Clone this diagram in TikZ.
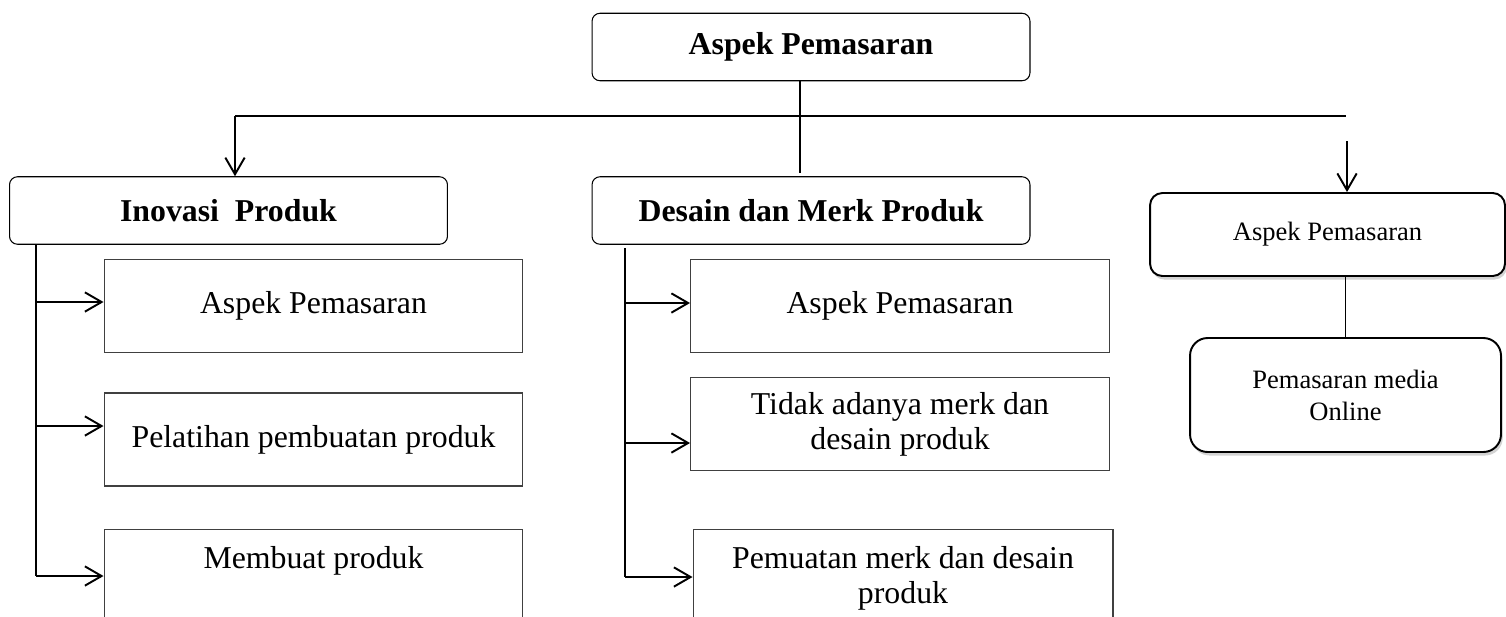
\documentclass[tikz,border=0pt]{standalone}
\usepackage{fontspec}
\setmainfont{Liberation Serif}
\usetikzlibrary{arrows.meta,shadows}
\newcommand{\judul}[1]{{\bfseries #1}}

\begin{document}
\begin{tikzpicture}[
 x=0.02cm,
 y=-0.02cm,
 line width=1.1pt,
 >={Straight Barb[length=9.5pt,width=11pt]},
 head/.style={
  draw=black,
  line width=0.6pt,
  rectangle,
  rounded corners=4.5pt,
  minimum width=8.76cm,
  minimum height=1.35cm,
  font=\fontsize{18.1}{20.5}\selectfont,
 },
 item/.style={
  draw=black!75,
  line width=0.6pt,
  rectangle,
  minimum width=8.38cm,
  minimum height=1.86cm,
  align=center,
  font=\fontsize{18.1}{20}\selectfont,
 },
 itemtop/.style={
  item,
  minimum height=0pt,
  anchor=north,
  inner ysep=0.33cm,
  text depth=1.2cm,
 },
 side/.style={
  draw=black,
  fill=white,
  line width=1.1pt,
  rectangle,
  rounded corners=7pt,
  minimum width=7.1cm,
  minimum height=1.66cm,
  align=center,
  drop shadow={shadow xshift=1pt,shadow yshift=-2pt,opacity=0.35},
  font=\fontsize{15.1}{18.2}\selectfont,
 }
]

\useasboundingbox (0,0) rectangle (1506,616);

\node at (811,47) [head] (aspek) {\judul{Aspek Pemasaran}};
\node at (228.5,210.5) [head] (inovasi) {\judul{Inovasi~~Produk}};
\node at (811,210.5) [head] (desain) {\judul{Desain dan Merk Produk}};

\node at (1327.5,234.5) [side] (kanan) {Aspek Pemasaran};
\node at (1345.5,395) [side,minimum width=6.22cm,minimum height=2.28cm,rounded corners=10pt] (online) {Pemasaran media\\Online};

\node at (313.5,306) [item] (aspekip) {Aspek Pemasaran};
\node at (313.5,439.5) [item] (pelatihan) {Pelatihan pembuatan produk};
\node at (313.5,529) [itemtop] (membuat) {Membuat produk};

\node at (900,306) [item] (aspekdm) {Aspek Pemasaran};
\node at (900,424) [item] (tidakada) {Tidak adanya merk dan\\desain produk};
\node at (903,529) [itemtop,minimum width=8.4cm] (pemuatan) {Pemuatan merk dan desain\\produk};

\coordinate (kiri) at (235,116);
\coordinate (ujung) at (1346,116);
\coordinate (tengah) at (800,173);
\coordinate (panah) at (1347,141);

\draw (kiri) -- (ujung);
\draw[->] (kiri) -- (kiri |- inovasi.north);
\draw[line width=0.6pt] (tengah |- aspek.south) -- (tengah);
\draw[->] (panah) -- (panah |- kanan.north);
\draw (online.north) -- (online.north |- kanan.south);

\coordinate (ip1) at (36,302);
\coordinate (ip2) at (36,426);
\coordinate (ip3) at (36,576);

\draw (ip1 |- inovasi.south) -- (ip3);
\draw[->] (ip1) -- (ip1 -| aspekip.west);
\draw[->] (ip2) -- (ip2 -| pelatihan.west);
\draw[->] (ip3) -- (ip3 -| membuat.west);

\coordinate (dm0) at (625,248);
\coordinate (dm1) at (625,303);
\coordinate (dm2) at (625,443);
\coordinate (dm3) at (625,577);

\draw (dm0) -- (dm3);
\draw[->] (dm1) -- (dm1 -| aspekdm.west);
\draw[->] (dm2) -- (dm2 -| tidakada.west);
\draw[->] (dm3) -- (dm3 -| pemuatan.west);

\end{tikzpicture}
\end{document}
